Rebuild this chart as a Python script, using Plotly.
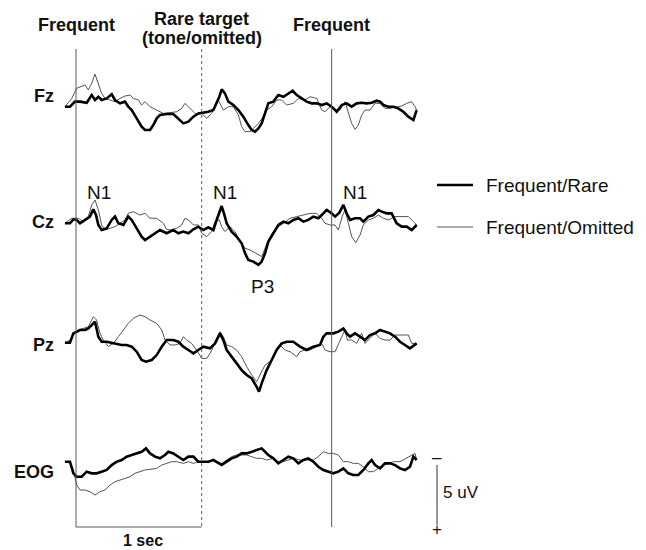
import plotly.graph_objects as go

W, H = 646, 550

# ---------------- data (time in ms, amplitude in uV; positive plotted downward) -------------
fz_rare_t = [-88,-48,-8,32,85,125,151,178,204,244,284,310,350,390,416,443,483,522,549,589,615,642,668,721,774,814,854,894,934,973,1013,1053,1093,1119,1140,1159,1185,1212,1252,1292,1331,1371,1398,1424,1451,1477,1504,1530,1570,1610,1650,1689,1724,1756,1795,1835,1875,1915,1955,1994,2034,2074,2114,2153,2193,2233,2273,2313,2352,2392,2419,2445,2485,2525,2564,2604,2644,2684,2710]
fz_rare_v = [0,0,-0.42,-0.42,-0.33,-0.97,-0.56,-0.83,-0.56,-0.69,-1.03,-0.56,-0.28,-0.42,0,0.28,0.97,1.67,1.94,1.94,1.53,0.97,0.69,0.61,0.61,0.97,1.39,1.25,0.83,0.56,0.5,0.42,0.28,-0.28,-0.83,-1.44,-1.11,-0.42,-0.14,0.28,0.83,1.53,1.94,2.08,1.81,1.39,0.56,-0.28,-0.42,-0.97,-0.83,-1.11,-1.33,-0.97,-0.69,-0.42,-0.28,-0.28,-0.14,-0.28,0,0.42,-0.14,-0.28,0,-0.28,-0.33,-0.28,-0.33,-0.5,-0.42,-0.14,0,0,0.14,0.42,0.83,1.11,0.28]

fz_omit_t = [-88,-34,5,45,72,98,125,151,178,204,231,271,310,350,390,430,456,496,522,549,589,642,695,748,801,841,867,894,920,960,1000,1040,1079,1106,1132,1151,1172,1212,1252,1292,1318,1345,1384,1411,1451,1490,1517,1557,1596,1636,1676,1729,1769,1822,1862,1915,1955,1981,2021,2061,2100,2140,2167,2193,2220,2246,2273,2299,2339,2379,2419,2458,2498,2551,2591,2631,2671,2697,2710]
fz_omit_v = [0,-0.69,-1.53,-1.72,-1.81,-1.39,-1.94,-2.72,-1.94,-1.11,-0.69,-0.56,-0.42,-0.69,-0.89,-0.97,-0.69,-0.56,-0.14,-0.42,0,0.28,0.56,0.5,0.42,0.14,-0.28,0,0.28,0.69,0.56,0.97,0.56,0,-0.56,-0.14,0.28,0,0,0.69,1.67,2.08,2.08,1.81,1.39,0.83,0.28,0,-0.56,-0.56,-0.14,-0.28,-0.69,-0.56,-0.83,-0.69,0.28,0.42,0,0.28,0.28,-0.42,0.56,1.39,1.89,1.53,0.69,0.28,0.28,-0.28,-0.28,0.14,0.14,0,-0.06,-0.28,-0.42,0,0.28]

cz_rare_t = [-88,-48,-21,5,32,72,111,138,159,178,204,244,284,310,337,377,416,443,483,522,549,589,629,668,721,774,814,854,894,934,973,1013,1053,1093,1119,1140,1159,1177,1199,1238,1278,1318,1345,1371,1411,1451,1477,1504,1530,1570,1610,1650,1689,1729,1769,1809,1848,1888,1928,1968,1994,2034,2061,2095,2127,2153,2180,2220,2260,2286,2326,2366,2405,2432,2472,2511,2551,2591,2631,2671,2710]
cz_rare_v = [0,0,-0.33,-0.28,0,-0.28,-0.56,-1.17,-0.69,0.14,0.56,0.42,-0.28,-0.56,0,0.14,-0.56,-0.28,0.42,1.11,1.39,1.11,0.83,0.56,0.83,0.56,0.83,0.69,0.83,0.5,0.28,0.56,0.33,0.56,-0.28,-0.97,-1.44,-0.83,0,0.69,1.11,1.67,2.5,3.06,3.19,3.47,3.19,2.5,1.53,0.83,0.14,-0.14,0,-0.28,-0.42,-0.14,-0.28,-0.56,-0.42,-0.83,-1.11,-0.83,-0.56,-0.89,-1.53,-0.83,-0.28,-0.42,-0.42,-0.14,-0.56,-0.69,-1.11,-0.97,-0.83,-0.83,0,0.28,0.28,0.56,0.14]

cz_omit_t = [-88,-34,19,58,98,125,151,178,204,231,271,310,350,390,416,456,509,549,589,642,695,721,748,801,841,867,894,934,973,1000,1040,1079,1106,1140,1159,1185,1225,1265,1305,1345,1384,1437,1477,1504,1530,1570,1610,1650,1703,1756,1809,1862,1915,1955,1981,2021,2061,2087,2122,2140,2167,2193,2225,2260,2286,2326,2366,2405,2445,2485,2538,2591,2644,2684,2710]
cz_omit_v = [0,-0.42,-0.42,-0.14,-0.56,-1.53,-1.94,-1.11,0.14,0.56,0.42,0.28,0,-0.28,-0.83,-0.97,-0.69,-0.83,-0.42,-0.42,0,0.5,0.56,0.42,0.14,-0.42,-0.28,0.14,0.14,0.83,1.11,0.69,-0.14,-0.28,0.28,0.69,0.28,0.69,1.53,2.08,2.22,2.5,2.78,2.08,1.39,0.69,0.28,0,-0.42,-0.56,-0.69,-0.83,-0.83,-0.42,0,0.14,0.14,0.56,-0.69,-1.11,0,1.11,1.61,0.97,0.14,-0.28,-0.42,-0.69,-0.42,-0.28,-0.56,-0.56,-0.56,-0.14,0.14]

pz_rare_t = [-88,-48,-21,5,32,72,98,125,151,178,204,244,284,324,363,403,443,483,522,557,602,642,682,721,774,814,854,894,934,973,1013,1066,1106,1146,1172,1199,1238,1278,1318,1358,1398,1437,1456,1477,1517,1557,1596,1636,1676,1729,1782,1835,1888,1941,1968,1994,2047,2087,2127,2153,2180,2220,2260,2299,2339,2379,2419,2458,2498,2538,2578,2617,2657,2710]
pz_rare_v = [0,0,-0.78,-0.92,-1.06,-1.06,-1.19,-1.47,-1.75,-0.5,-0.08,-0.08,0,0.06,0.19,0.19,0.33,0.75,1.44,1.58,1.44,1.03,0.33,-0.22,-0.22,-0.08,0.33,0.61,0.89,0.61,0.33,0.47,0.06,-0.78,-0.22,0.61,1.17,1.72,2.28,2.69,2.97,3.67,4.08,3.39,2.28,1.44,0.61,0.06,-0.08,-0.08,0.33,0.61,0.33,0.19,-0.5,-0.78,-0.78,-0.92,-1.19,-0.78,-0.5,-0.78,-0.5,-0.22,-0.64,-0.78,-1.06,-0.92,-0.78,-0.5,-0.08,0.19,0.47,0.06]

pz_omit_t = [-88,-48,-21,19,58,98,138,164,191,217,257,297,337,377,416,456,509,549,589,642,682,708,748,788,827,854,880,920,960,1000,1040,1066,1093,1119,1146,1172,1199,1238,1278,1318,1358,1398,1437,1464,1504,1543,1583,1623,1663,1703,1756,1782,1822,1862,1915,1955,1981,2021,2061,2087,2114,2140,2159,2193,2233,2273,2299,2339,2379,2419,2458,2498,2538,2591,2644,2671,2710]
pz_omit_v = [0,-0.22,-0.64,-1.06,-1.19,-1.33,-2.17,-1.89,-0.78,-0.22,0.33,0.06,-0.5,-1.06,-1.61,-2.03,-2.31,-2.17,-1.89,-1.61,-1.06,-0.22,0.19,0.19,0.06,-0.5,-0.22,0.06,0.61,1.31,1.31,0.89,0.33,-0.36,-0.92,-0.5,0.19,0.33,0.61,1.17,2.0,2.69,3.25,2.69,1.86,1.58,0.89,0.19,0.61,0.75,1.17,0.75,0.61,0.61,0.33,0.06,0.61,0.75,0.75,0.06,-0.5,-1.06,-0.22,-0.22,0.06,-0.78,0.06,-0.36,-0.78,-0.36,-0.22,-0.22,-0.64,-0.64,-0.64,0.06,0.06]

eog_rare_t = [-88,-48,-21,5,45,85,125,164,204,244,284,324,363,403,443,483,522,557,589,629,668,708,735,774,814,854,894,934,973,1013,1053,1093,1119,1159,1199,1238,1278,1318,1358,1398,1437,1477,1504,1530,1570,1610,1650,1689,1729,1769,1809,1848,1888,1928,1968,2008,2047,2087,2127,2167,2206,2246,2286,2326,2352,2379,2419,2458,2498,2538,2578,2617,2657,2684,2710]
eog_rare_v = [0,0,0.97,1.25,1.25,0.83,0.97,0.97,0.83,0.69,0.28,0,-0.14,-0.42,-0.56,-0.69,-0.83,-1.11,-0.69,-0.42,-0.28,-0.56,-0.83,-0.69,-0.42,-0.14,-0.42,-0.42,0,0,0,-0.14,0,0.28,0,-0.28,-0.42,-0.69,-0.69,-0.83,-0.97,-1.11,-0.83,-0.56,-0.28,0.14,-0.14,-0.42,-0.28,0.14,-0.14,-0.28,0,0.42,0.69,0.83,0.97,0.83,0.56,0.97,1.11,1.11,0.69,0.14,-0.14,0.28,0.56,0.14,0.14,0.28,0.56,0.69,0.42,-0.42,-0.14]

eog_omit_t = [-88,-48,-21,5,32,72,111,151,191,231,271,310,350,390,430,469,509,549,589,642,682,721,761,801,854,894,934,973,1013,1053,1093,1119,1159,1199,1238,1278,1318,1358,1398,1437,1477,1517,1570,1610,1650,1689,1729,1782,1835,1888,1928,1968,2008,2047,2087,2127,2167,2206,2246,2286,2326,2366,2405,2445,2485,2525,2578,2631,2671,2697,2710]
eog_omit_v = [0,0,0.69,1.94,2.36,2.36,2.5,2.78,2.5,2.36,1.94,1.67,1.53,1.39,1.25,0.97,0.83,0.69,0.64,0.56,0.28,0.14,0,0,0.14,0,0.14,0,0,0,-0.14,0,0.14,-0.14,-0.42,-0.56,-0.56,-0.56,-0.42,-0.28,-0.28,-0.14,-0.28,0,0,-0.14,-0.28,-0.14,-0.14,-0.14,-0.42,-0.83,-0.69,-0.69,-0.56,0,0,0.14,0.14,0.42,0.83,0.83,0.56,0.28,0.14,0,0,-0.28,-0.56,-0.69,-0.14]

channels = ["Fz", "Cz", "Pz", "EOG"]
event_labels = ["Frequent", "Rare target<br>(tone/omitted)", "Frequent"]
event_times = [0, 1000, 2034]
series_names = ["Frequent/Rare", "Frequent/Omitted"]
scale_uv = 5
scale_ms = 1000

# ---------------- layout helpers ----------------
PX_PER_MS = 125.7 / 1000.0
PX_PER_UV = 12.0
T0_PX = 76.0
def px_x(t):
    return T0_PX + t * PX_PER_MS
x_range = [(0 - T0_PX) / PX_PER_MS, (W - T0_PX) / PX_PER_MS]
y_range = [H / PX_PER_UV, 0]  # reversed: positive (uV) plotted downward

baseline_px = {"Fz": 106.7, "Cz": 223.3, "Pz": 342.7, "EOG": 461.7}
label_py = {"Fz": 96, "Cz": 222, "Pz": 345, "EOG": 472}

data = {
    "Fz": ((fz_rare_t, fz_rare_v), (fz_omit_t, fz_omit_v)),
    "Cz": ((cz_rare_t, cz_rare_v), (cz_omit_t, cz_omit_v)),
    "Pz": ((pz_rare_t, pz_rare_v), (pz_omit_t, pz_omit_v)),
    "EOG": ((eog_rare_t, eog_rare_v), (eog_omit_t, eog_omit_v)),
}

thick = dict(color="#000000", width=2.6)
thin = dict(color="#555555", width=1.0)

fig = go.Figure()
for ch in channels:
    off = baseline_px[ch] / PX_PER_UV
    (rt, rv), (ot, ov) = data[ch]
    fig.add_trace(go.Scatter(x=ot, y=[off + v for v in ov], mode="lines", line=thin,
                             name=series_names[1], showlegend=False, hoverinfo="skip"))
    fig.add_trace(go.Scatter(x=rt, y=[off + v for v in rv], mode="lines", line=thick,
                             name=series_names[0], showlegend=False, hoverinfo="skip"))

def py(p):  # pixel y -> data y
    return p / PX_PER_UV

shapes = []
top_px, bot_px = 49, 527
for i, t in enumerate(event_times):
    shapes.append(dict(type="line", xref="x", yref="y", x0=t, x1=t, y0=py(top_px), y1=py(bot_px),
                       line=dict(color="#5a5a5a", width=1, dash="dot" if i == 1 else "solid")))
# 1 sec bracket bottom
shapes.append(dict(type="line", xref="x", yref="y", x0=0, x1=scale_ms, y0=py(bot_px), y1=py(bot_px),
                   line=dict(color="#5a5a5a", width=1)))
# 5 uV scale bar
sb_t = (437 - T0_PX) / PX_PER_MS
shapes.append(dict(type="line", xref="x", yref="y", x0=sb_t, x1=sb_t, y0=py(465), y1=py(465) + scale_uv,
                   line=dict(color="#333333", width=1)))
# legend samples
shapes.append(dict(type="line", xref="paper", yref="paper", x0=437 / W, x1=473 / W,
                   y0=1 - 185 / H, y1=1 - 185 / H, line=thick))
shapes.append(dict(type="line", xref="paper", yref="paper", x0=437 / W, x1=473 / W,
                   y0=1 - 227 / H, y1=1 - 227 / H, line=thin))

def ann(text, x, y, size, bold=False, xanchor="center"):
    return dict(text=f"<b>{text}</b>" if bold else text, x=x / W, y=1 - y / H,
                xref="paper", yref="paper", showarrow=False, xanchor=xanchor, yanchor="middle",
                font=dict(family="Liberation Sans, Arial, sans-serif", size=size, color="#111111"))

annotations = [
    ann(event_labels[0], px_x(event_times[0]), 25, 18, True),
    ann("Rare target", px_x(event_times[1]), 19, 18, True),
    ann("(tone/omitted)", px_x(event_times[1]), 38, 18, True),
    ann(event_labels[2], px_x(event_times[2]), 25, 18, True),
]
for ch in channels:
    annotations.append(ann(ch, 56, label_py[ch], 18, True, "right"))
for t in event_times:
    annotations.append(ann("N1", px_x(t) + 23, 192, 19))
annotations.append(ann("P3", 262, 286, 19))
annotations.append(ann(series_names[0], 484, 185, 19, False, "left"))
annotations.append(ann(series_names[1], 484, 227, 19, False, "left"))
annotations.append(ann("5 uV", 441, 492, 17, False, "left"))
annotations.append(ann("\u2013", 437, 457, 17))
annotations.append(ann("+", 437, 529, 17))
annotations.append(ann("1 sec", 143, 540, 16, True))

fig.update_layout(
    width=W, height=H, margin=dict(l=0, r=0, t=0, b=0),
    paper_bgcolor="white", plot_bgcolor="white", showlegend=False,
    xaxis=dict(range=x_range, visible=False, fixedrange=True),
    yaxis=dict(range=y_range, visible=False, fixedrange=True),
    shapes=shapes, annotations=annotations,
)

fig.write_html("out.html")
